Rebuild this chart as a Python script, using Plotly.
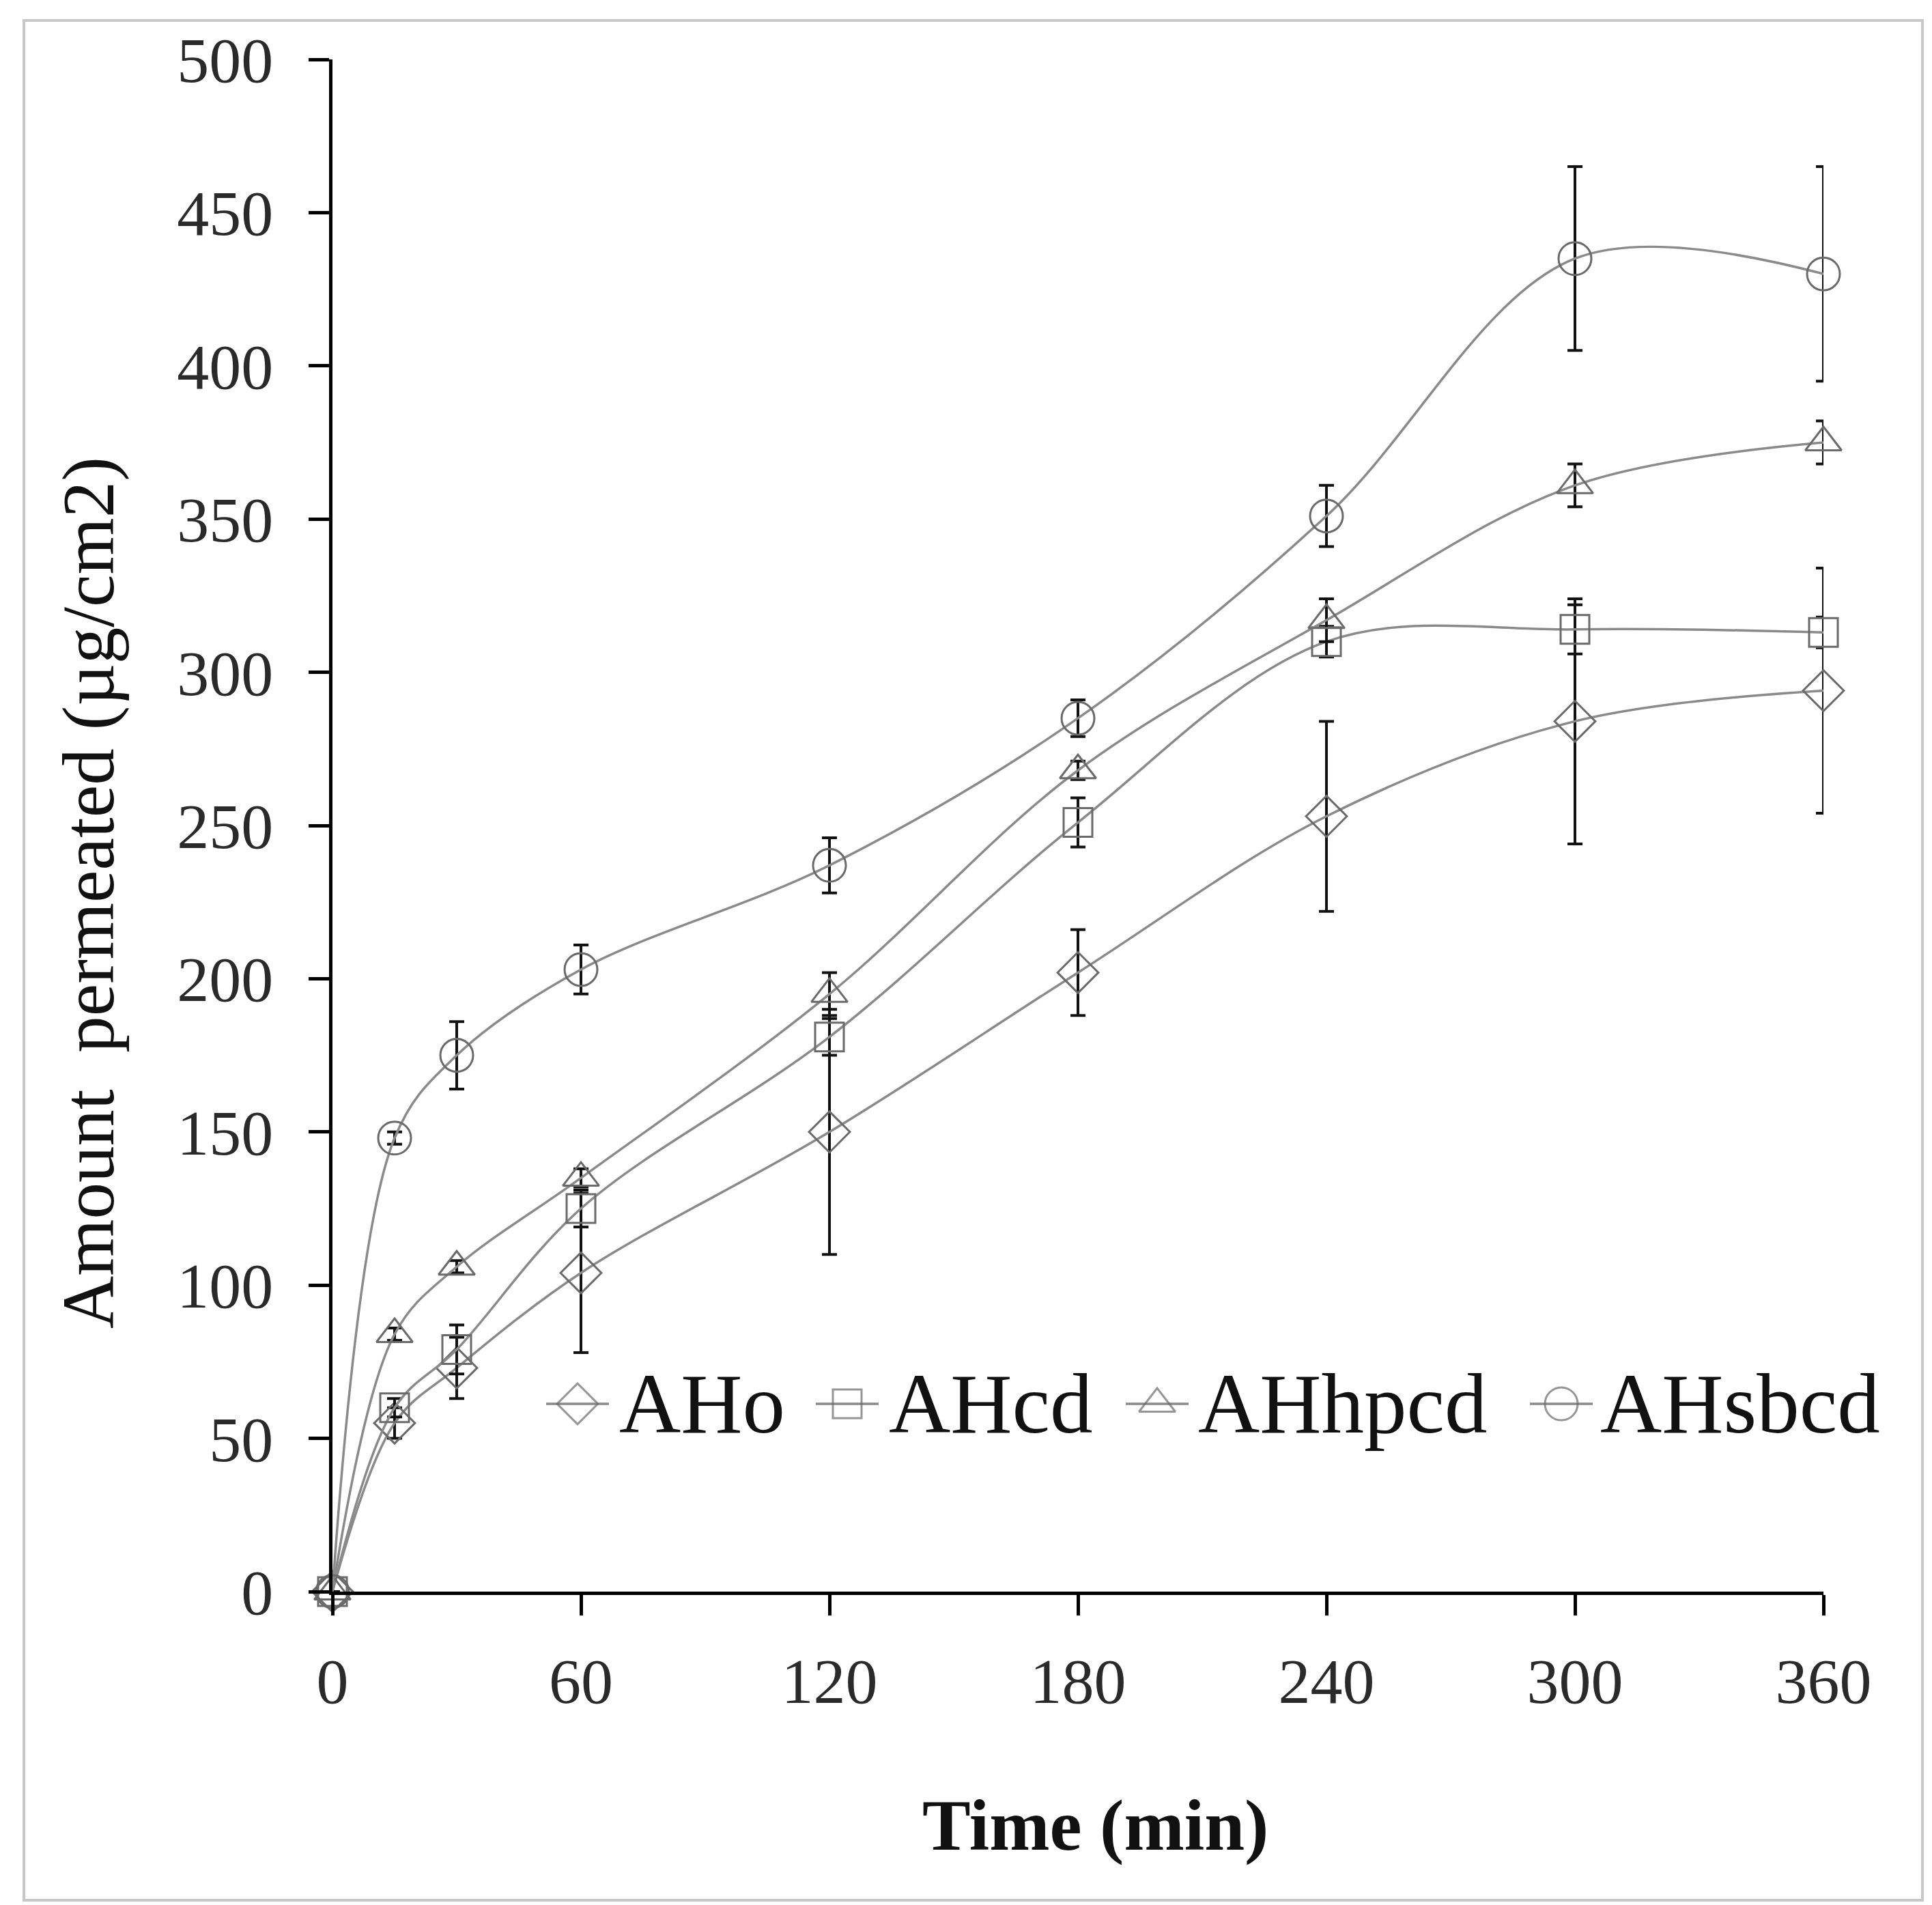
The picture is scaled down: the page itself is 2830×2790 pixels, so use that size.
import plotly.graph_objects as go

W, H = 2830, 2790
L, R, T, B = 479, 167, 79, 467

time_min = [0, 15, 30, 60, 120, 180, 240, 300, 360]

series_names = ["AHo", "AHcd", "AHhpcd", "AHsbcd"]
series_symbols = ["diamond-open", "square-open", "triangle-up-open", "circle-open"]
series_sizes = [46, 42, 46, 48]

aho_mean = [0, 55, 73, 104, 150, 202, 253, 284, 294]
aho_err = [0, 5, 10, 26, 40, 14, 31, 40, 40]

ahcd_mean = [0, 60, 79, 125, 181, 251, 310, 314, 313]
ahcd_err = [0, 3, 8, 6, 6, 8, 5, 8, 5]

ahhpcd_mean = [0, 84, 106, 135, 195, 268, 317, 361, 375]
ahhpcd_err = [0, 2, 2, 3, 7, 3, 7, 7, 7]

ahsbcd_mean = [0, 148, 175, 203, 237, 285, 351, 435, 430]
ahsbcd_err = [0, 2, 11, 8, 9, 6, 10, 30, 35]

means = [aho_mean, ahcd_mean, ahhpcd_mean, ahsbcd_mean]
errs = [aho_err, ahcd_err, ahhpcd_err, ahsbcd_err]

x_ticks = [0, 60, 120, 180, 240, 300, 360]
y_ticks = [0, 50, 100, 150, 200, 250, 300, 350, 400, 450, 500]

# legend placement in page pixels (legend is drawn by hand so symbols keep full size)
legend_sym_x = [838, 1233, 1687, 2279]
legend_text_x = [897, 1292, 1745, 2334]
legend_y = 2048

FONT = "Liberation Serif"
LINE_GRAY = "#8a8a8a"
MARK_GRAY = "#6a6a6a"

fig = go.Figure()

for name, sym, size, m, e in zip(series_names, series_symbols, series_sizes, means, errs):
    fig.add_trace(go.Scatter(
        x=time_min, y=m, name=name,
        mode="lines+markers",
        line=dict(color=LINE_GRAY, width=3.5, shape="spline", smoothing=1.0),
        marker=dict(symbol=sym, size=size, color=MARK_GRAY,
                    line=dict(color=MARK_GRAY, width=3)),
        error_y=dict(type="data", array=e, visible=True,
                     color="#111111", thickness=4, width=11),
        cliponaxis=False, showlegend=False,
    ))

# hand-made legend on an overlay axis measured in page pixels
for name, sym, size, sx, tx in zip(series_names, series_symbols, series_sizes,
                                   legend_sym_x, legend_text_x):
    fig.add_trace(go.Scatter(
        x=[sx - 46, sx, sx + 46], y=[legend_y] * 3,
        xaxis="x2", yaxis="y2", mode="lines+markers",
        line=dict(color=LINE_GRAY, width=3.5),
        marker=dict(symbol=sym, size=[0, size, 0], color=MARK_GRAY,
                    line=dict(color=MARK_GRAY, width=3)),
        cliponaxis=False, showlegend=False, hoverinfo="skip",
    ))
    fig.add_annotation(text=name, xref="x2", yref="y2", x=tx, y=legend_y,
                       xanchor="left", yanchor="middle", showarrow=False,
                       font=dict(family=FONT, size=125, color="#111111"))

pw = W - L - R
ph = H - T - B

def px_x(p):
    return (p - L) / pw

def px_y(p):
    return (H - B - p) / ph

fig.add_shape(type="rect", xref="paper", yref="paper",
              x0=px_x(27), x1=px_x(2808), y0=px_y(2775), y1=px_y(22),
              line=dict(color="#c8c8c8", width=4), fillcolor="rgba(0,0,0,0)",
              layer="below")

fig.add_annotation(text="Amount  permeated (µg/cm2)", xref="paper", yref="paper",
                   x=px_x(122), y=px_y(1300), textangle=-90, showarrow=False,
                   xanchor="center", yanchor="middle",
                   font=dict(family=FONT, size=107, color="#111111"))
fig.add_annotation(text="<b>Time (min)</b>", xref="paper", yref="paper",
                   x=px_x(1596), y=px_y(2665), showarrow=False,
                   xanchor="center", yanchor="middle",
                   font=dict(family=FONT, size=106, color="#111111"))

fig.update_layout(
    width=W, height=H,
    margin=dict(l=L, r=R, t=T, b=B, pad=0),
    plot_bgcolor="white", paper_bgcolor="white",
    showlegend=False,
    font=dict(family=FONT, color="#222222"),
    xaxis=dict(range=[0, 360], tickvals=x_ticks, ticktext=[str(v) for v in x_ticks],
               showline=True, linecolor="black", linewidth=5,
               ticks="outside", ticklen=30, tickwidth=5, tickcolor="black",
               showgrid=False, zeroline=False,
               tickfont=dict(family=FONT, size=94, color="#2a2a2a"),
               ticklabelstandoff=15),
    yaxis=dict(range=[0, 500], tickvals=y_ticks, ticktext=[str(v) for v in y_ticks],
               showline=True, linecolor="black", linewidth=5,
               ticks="outside", ticklen=30, tickwidth=5, tickcolor="black",
               showgrid=False, zeroline=False,
               tickfont=dict(family=FONT, size=94, color="#2a2a2a"),
               ticklabelstandoff=33),
    xaxis2=dict(overlaying="x", anchor="y2", range=[L, W - R], visible=False),
    yaxis2=dict(overlaying="y", anchor="x2", range=[H - B, T], visible=False),
)

fig.write_html("out.html")
